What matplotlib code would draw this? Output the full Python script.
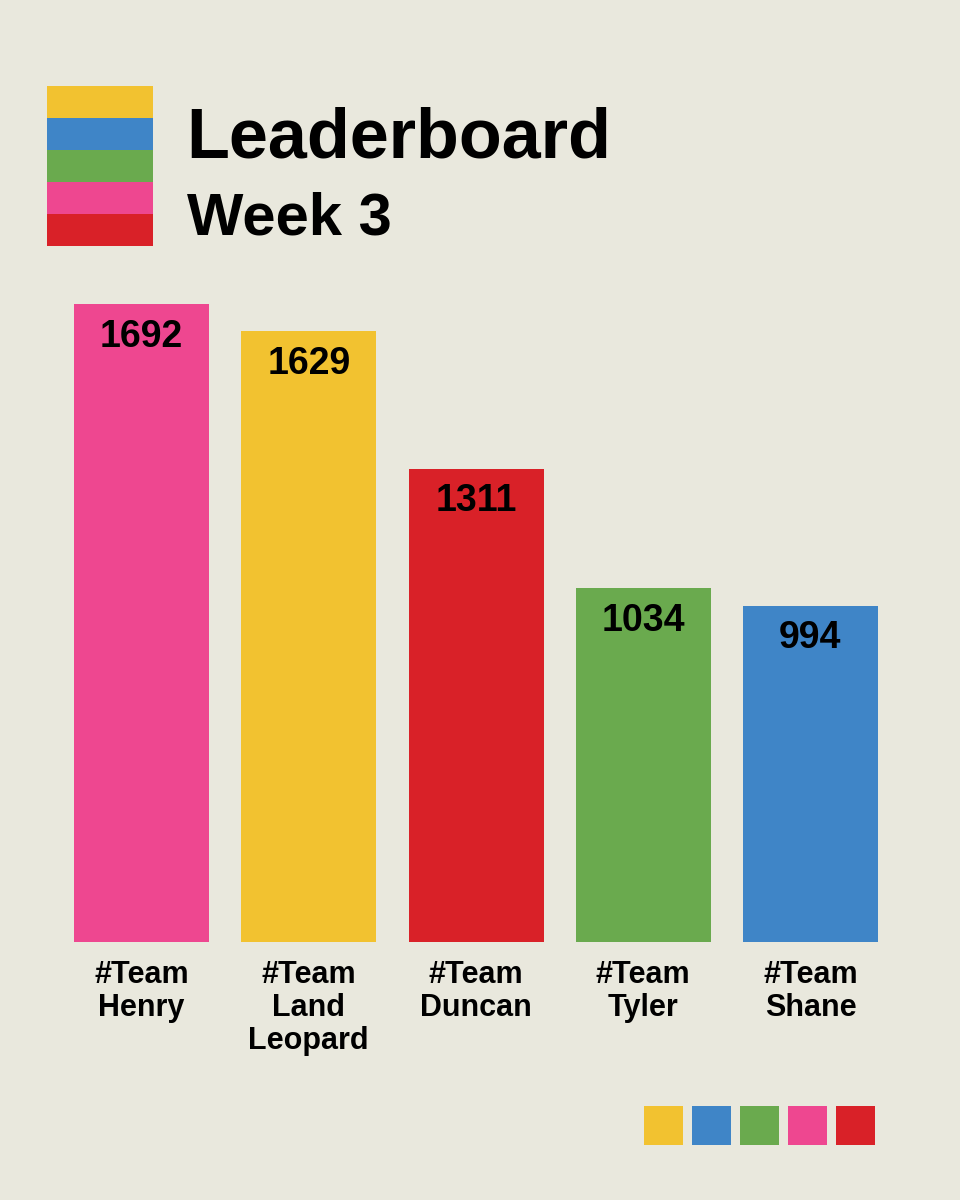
import matplotlib
matplotlib.use("Agg")
import matplotlib.pyplot as plt
from matplotlib.patches import Rectangle

# ---- data ----
teams = ["#Team\nHenry", "#Team\nLand\nLeopard", "#Team\nDuncan", "#Team\nTyler", "#Team\nShane"]
points = [1692, 1629, 1311, 1034, 994]
bar_colors = ["#ee4790", "#f2c230", "#d92128", "#6aaa4e", "#3f85c7"]
title = "Leaderboard"
subtitle = "Week 3"
palette = ["#f2c230", "#3f85c7", "#6aaa4e", "#ee4790", "#d92128"]

FONT = ["Liberation Sans", "DejaVu Sans"]
BG = "#e9e8dd"
W, H = 960, 1200

fig = plt.figure(figsize=(9.6, 12), dpi=100, facecolor=BG)

# axes placement (pixels -> fractions)
base_px = 942
top_px = 300
ax = fig.add_axes([0, (H - base_px) / H, 1, (base_px - top_px) / H])
ax.set_facecolor("none")
px_per_unit = 0.4318
ymin = 215
ax.set_ylim(ymin, ymin + (base_px - top_px) / px_per_unit)
pitch = 167.25
c0 = 141.5
ax.set_xlim(-c0 / pitch, (W - c0) / pitch)

x = list(range(len(teams)))
bars = ax.bar(x, points, width=135 / pitch, color=bar_colors, linewidth=0)
for xi, v in zip(x, points):
    ax.annotate(f"{v}", (xi, v), xytext=(0, -23.5), textcoords="offset points",
                ha="center", va="center", fontsize=27, fontweight="bold",
                family=FONT, color="black")

ax.set_xticks(x)
ax.set_xticklabels(teams, fontsize=22, fontweight="bold", family=FONT,
                   linespacing=1.13, va="top")
ax.tick_params(axis="x", length=0, pad=13)
ax.set_yticks([])
for s in ax.spines.values():
    s.set_visible(False)

# header colour stack
for i, c in enumerate(palette):
    y_top = 86 + i * 32
    fig.add_artist(Rectangle((47 / W, 1 - (y_top + 32) / H), 106 / W, 32 / H,
                             transform=fig.transFigure, color=c, lw=0))

fig.text(186 / W, 1 - 157 / H, title, fontsize=50.5, fontweight="bold",
         family=FONT, va="baseline", ha="left")
fig.text(187 / W, 1 - 234 / H, subtitle, fontsize=43, fontweight="bold",
         family=FONT, va="baseline", ha="left")

# footer squares
for i, c in enumerate(palette):
    fig.add_artist(Rectangle(((644 + i * 48) / W, 1 - 1145 / H), 39 / W, 39 / H,
                             transform=fig.transFigure, color=c, lw=0))

fig.savefig("out.png", dpi=100, facecolor=BG)
